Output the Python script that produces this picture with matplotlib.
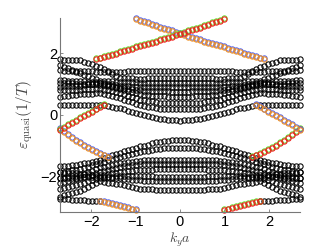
import numpy as np
import matplotlib
matplotlib.use('Agg')
import matplotlib.pyplot as plt

plt.rcParams['font.family'] = ['Liberation Sans', 'DejaVu Sans']
plt.rcParams['mathtext.fontset'] = 'cm'

# k_y a grid for the right half (0 .. 2.7), bands are mirror symmetric in k
k_half = [round(0.09 * i, 2) for i in range(31)]

# bulk bands, upper group (values at k_half)
U1 = [1.42, 1.42, 1.42, 1.43, 1.43, 1.43, 1.43, 1.43, 1.42, 1.42, 1.42, 1.42, 1.41, 1.41, 1.40, 1.40,
      1.40, 1.40, 1.40, 1.40, 1.40, 1.40, 1.41, 1.41, 1.42, 1.42, 1.43, 1.43, 1.44, 1.44, 1.45]
U2 = [1.20, 1.20, 1.20, 1.20, 1.20, 1.20, 1.20, 1.19, 1.19, 1.18, 1.18, 1.18, 1.19, 1.19, 1.20, 1.20,
      1.27, 1.34, 1.41, 1.48, 1.55, 1.59, 1.64, 1.68, 1.73, 1.77, 1.78, 1.78, 1.79, 1.79, 1.80]
U3 = [1.03, 1.03, 1.03, 1.03, 1.03, 1.03, 1.03, 1.04, 1.04, 1.05, 1.05, 1.06, 1.06, 1.07, 1.07, 1.08,
      1.08, 1.09, 1.09, 1.10, 1.10, 1.15, 1.20, 1.25, 1.30, 1.35, 1.40, 1.46, 1.51, 1.57, 1.62]
U4 = [0.90, 0.90, 0.90, 0.90, 0.90, 0.90, 0.90, 0.90, 0.90, 0.90, 0.90, 0.91, 0.92, 0.93, 0.94, 0.95,
      0.97, 0.99, 1.01, 1.03, 1.05, 1.06, 1.07, 1.08, 1.09, 1.10, 1.10, 1.11, 1.11, 1.12, 1.12]
U5 = [0.76, 0.76, 0.76, 0.77, 0.77, 0.77, 0.78, 0.78, 0.79, 0.79, 0.80, 0.82, 0.83, 0.85, 0.86, 0.88,
      0.90, 0.92, 0.94, 0.96, 0.98, 0.99, 1.00, 1.00, 1.01, 1.02, 1.02, 1.03, 1.03, 1.04, 1.04]
U6 = [0.58, 0.58, 0.59, 0.59, 0.60, 0.60, 0.62, 0.63, 0.65, 0.66, 0.68, 0.71, 0.75, 0.78, 0.82, 0.85,
      0.89, 0.93, 0.97, 1.01, 1.05, 1.03, 1.01, 0.99, 0.97, 0.95, 0.94, 0.94, 0.93, 0.93, 0.92]
U7 = [0.38, 0.38, 0.39, 0.39, 0.40, 0.40, 0.42, 0.44, 0.46, 0.48, 0.50, 0.54, 0.59, 0.63, 0.68, 0.72,
      0.75, 0.77, 0.80, 0.82, 0.85, 0.84, 0.84, 0.83, 0.83, 0.82, 0.82, 0.81, 0.81, 0.80, 0.80]
U8 = [0.18, 0.18, 0.19, 0.19, 0.20, 0.20, 0.22, 0.25, 0.27, 0.30, 0.32, 0.37, 0.41, 0.46, 0.50, 0.55,
      0.58, 0.61, 0.64, 0.67, 0.70, 0.70, 0.69, 0.69, 0.68, 0.68, 0.66, 0.64, 0.62, 0.60, 0.58]
U9 = [-0.18, -0.17, -0.16, -0.15, -0.14, -0.13, -0.10, -0.07, -0.03, 0.00, 0.03, 0.07, 0.11, 0.14, 0.18, 0.22,
      0.24, 0.26, 0.29, 0.31, 0.33, 0.33, 0.33, 0.33, 0.32, 0.32, 0.32, 0.32, 0.32, 0.32, 0.32]

# bulk bands, lower group
L1 = [-0.80, -0.81, -0.82, -0.84, -0.85, -0.86, -0.89, -0.92, -0.96, -0.99, -1.02, -1.06, -1.10, -1.14, -1.18, -1.22,
      -1.27, -1.31, -1.36, -1.40, -1.45, -1.48, -1.51, -1.54, -1.57, -1.60, -1.61, -1.62, -1.64, -1.65, -1.66]
L2 = [-1.06, -1.07, -1.07, -1.08, -1.08, -1.09, -1.11, -1.13, -1.16, -1.18, -1.20, -1.23, -1.26, -1.29, -1.32, -1.35,
      -1.39, -1.43, -1.47, -1.51, -1.55, -1.59, -1.63, -1.67, -1.71, -1.75, -1.77, -1.79, -1.81, -1.83, -1.85]
L3 = [-1.45, -1.45, -1.45, -1.45, -1.45, -1.45, -1.46, -1.46, -1.47, -1.47, -1.48, -1.49, -1.51, -1.52, -1.54, -1.55,
      -1.58, -1.61, -1.64, -1.67, -1.70, -1.75, -1.80, -1.85, -1.90, -1.95, -1.97, -1.99, -2.01, -2.03, -2.05]
L4 = [-1.58, -1.58, -1.58, -1.58, -1.58, -1.58, -1.58, -1.59, -1.59, -1.60, -1.60, -1.62, -1.63, -1.65, -1.66, -1.68,
      -1.71, -1.75, -1.78, -1.82, -1.85, -1.89, -1.93, -1.97, -2.01, -2.05, -2.08, -2.11, -2.14, -2.17, -2.20]
L5 = [-1.76, -1.76, -1.76, -1.76, -1.76, -1.76, -1.76, -1.77, -1.77, -1.78, -1.78, -1.79, -1.81, -1.82, -1.84, -1.85,
      -1.87, -1.89, -1.91, -1.93, -1.95, -1.94, -1.93, -1.92, -1.91, -1.90, -1.89, -1.88, -1.87, -1.87, -1.86]
L6 = [-2.00, -2.00, -2.00, -2.00, -2.00, -2.00, -2.00, -1.99, -1.99, -1.98, -1.98, -1.98, -1.98, -1.98, -1.98, -1.98,
      -1.99, -2.01, -2.02, -2.04, -2.05, -2.08, -2.12, -2.15, -2.19, -2.22, -2.26, -2.29, -2.33, -2.36, -2.40]
L7 = [-2.15, -2.15, -2.15, -2.15, -2.15, -2.15, -2.14, -2.14, -2.13, -2.13, -2.12, -2.11, -2.09, -2.08, -2.06, -2.05,
      -2.04, -2.03, -2.02, -2.01, -2.00, -2.00, -2.01, -2.01, -2.02, -2.02, -2.03, -2.03, -2.04, -2.04, -2.05]
L8 = [-2.42, -2.42, -2.42, -2.42, -2.42, -2.42, -2.42, -2.41, -2.41, -2.40, -2.40, -2.37, -2.34, -2.31, -2.28, -2.25,
      -2.23, -2.21, -2.19, -2.17, -2.15, -2.21, -2.27, -2.33, -2.39, -2.45, -2.49, -2.53, -2.56, -2.60, -2.64]
# bottom band that continues the edge mode near the zone boundary (k = 1.8 .. 2.7)
k_L9 = [1.80, 1.89, 1.98, 2.07, 2.16, 2.25, 2.34, 2.43, 2.52, 2.61, 2.70]
L9 = [-2.80, -2.79, -2.78, -2.77, -2.76, -2.75, -2.74, -2.74, -2.73, -2.73, -2.72]

upper = [U1, U2, U3, U4, U5, U6, U7, U8, U9]
lower = [L1, L2, L3, L4, L5, L6, L7, L8]

# edge modes (orange / blue); red / green are their mirror images k -> -k
k_S1 = [-0.99, -0.90, -0.81, -0.72, -0.63, -0.54, -0.45, -0.36, -0.27, -0.18, -0.09, 0.00, 0.09, 0.18, 0.27, 0.36,
        0.45, 0.54, 0.63, 0.72, 0.81, 0.90, 0.99, 1.08, 1.17, 1.26, 1.35, 1.44, 1.53, 1.62, 1.71, 1.80, 1.89]
S1 = [3.10, 3.06, 3.01, 2.97, 2.92, 2.88, 2.83, 2.79, 2.75, 2.71, 2.66, 2.62, 2.58, 2.54, 2.50, 2.46,
      2.42, 2.38, 2.34, 2.31, 2.27, 2.23, 2.19, 2.15, 2.11, 2.07, 2.03, 1.99, 1.95, 1.91, 1.87, 1.83, 1.80]
k_S2 = [-1.80, -1.71, -1.62, -1.53, -1.44, -1.35, -1.26, -1.17, -1.08, -0.99]
S2 = [-2.80, -2.83, -2.86, -2.89, -2.92, -2.96, -2.99, -3.02, -3.06, -3.09]
k_S3 = [-2.70, -2.61, -2.52, -2.43, -2.34, -2.25, -2.16, -2.07, -1.98, -1.89, -1.80, -1.71, -1.62]
S3 = [-0.46, -0.56, -0.65, -0.74, -0.83, -0.91, -0.99, -1.06, -1.13, -1.19, -1.25, -1.31, -1.36]
k_S4 = [1.71, 1.80, 1.89, 1.98, 2.07, 2.16, 2.25, 2.34, 2.43, 2.52, 2.61, 2.70]
S4 = [0.33, 0.26, 0.18, 0.11, 0.04, -0.04, -0.11, -0.18, -0.26, -0.33, -0.41, -0.48]

edges = [(k_S1, S1), (k_S2, S2), (k_S3, S3), (k_S4, S4)]


def mirrored(vals):
    k = np.array(k_half)
    v = np.array(vals)
    return np.concatenate([-k[::-1], k[1:]]), np.concatenate([v[::-1], v[1:]])


fig = plt.figure(figsize=(3.32, 2.5), dpi=100)
ax = fig.add_axes([60 / 332, 38 / 250, 240 / 332, 194 / 250])

mk = dict(marker='o', linestyle='none', markersize=3.8, markerfacecolor='none',
          markeredgewidth=0.75, clip_on=False)

for band in upper + lower:
    kk, yy = mirrored(band)
    ax.plot(kk, yy, markeredgecolor='black', **mk)
kk9 = np.array(k_L9)
ax.plot(np.concatenate([-kk9[::-1], kk9]), np.concatenate([L9[::-1], L9]),
        markeredgecolor='black', **mk)

# edge modes: two nearly degenerate copies, slightly offset
for kk, yy in edges:
    kk = np.array(kk)
    yy = np.array(yy)
    ax.plot(kk, yy + 0.03, markeredgecolor='#4a5cf0', **mk)
    ax.plot(kk, yy, markeredgecolor='#f09020', **mk)
    ax.plot(-kk, yy + 0.03, markeredgecolor='#5ee02a', **mk)
    ax.plot(-kk, yy, markeredgecolor='#f01a1a', **mk)

ax.set_xlim(-2.7, 2.7)
ax.set_ylim(-np.pi, np.pi)
ax.set_xticks([-2, -1, 0, 1, 2])
ax.set_yticks([-2, 0, 2])
for s in ['top', 'right']:
    ax.spines[s].set_visible(False)
for s in ['left', 'bottom']:
    ax.spines[s].set_color('#777777')
    ax.spines[s].set_linewidth(0.8)
ax.tick_params(direction='in', length=2.5, width=0.6, colors='#777777',
               labelcolor='black', labelsize=10.5, pad=2)

ax.set_xlabel(r'$k_y a$', fontsize=10, color='#444444')
ax.xaxis.set_label_coords(0.5, -0.097)
ax.set_ylabel(r'$\varepsilon_{\rm quasi}(1/T)$', fontsize=11, color='#444444', labelpad=4)

fig.savefig('out.png', dpi=100)
